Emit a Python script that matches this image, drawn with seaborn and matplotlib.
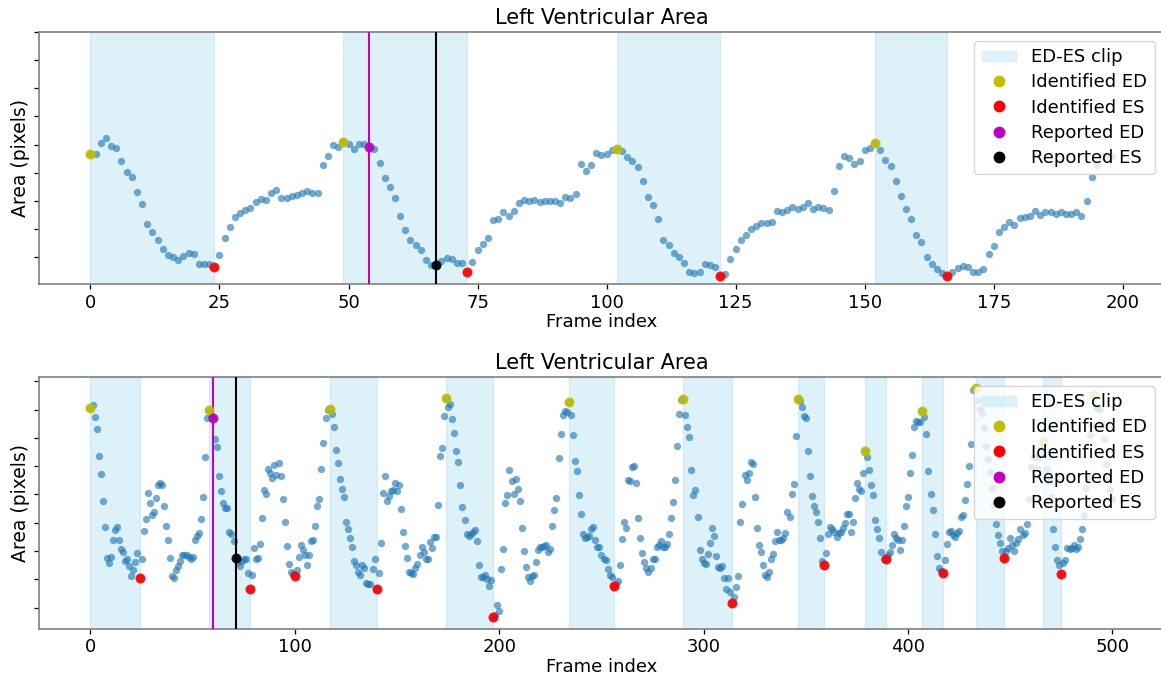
import numpy as np
import pandas as pd
import seaborn as sns
import matplotlib.pyplot as plt
from matplotlib.patches import Patch
from matplotlib.lines import Line2D

sns.set_style("ticks")
plt.rcParams['font.family'] = ['DejaVu Sans']
plt.rcParams.update({"text.color": "black", "axes.labelcolor": "black",
                     "xtick.color": "black", "ytick.color": "black"})

# ---- data (LV area, arbitrary units) ----
area_a = [129.7, 129.7, 141.4, 146.4, 138.4, 135.7, 123.4, 112.4, 107, 92, 79.7, 60, 52.4, 43.7, 35, 29, 27, 23.4, 27.4, 30.4,
          30, 20, 20, 20, 16.7, 28.7, 45.7, 56.7, 66.7, 70.7, 73.7, 76, 82, 84.7, 83.7, 91, 93.7, 86, 85.7, 87.7,
          89.4, 91.4, 93.4, 90.7, 90.7, 118.7, 128.4, 139, 137, 142.4, 140.4, 135.4, 139.7, 139.7, 136.7, 135.4, 121.4, 106.4, 96.7, 86,
          68, 53.7, 43.4, 38.4, 33.7, 24, 18.4, 18.7, 22.7, 25.7, 24.4, 20.7, 20.4, 12, 21.4, 34, 39.4, 45.4, 64.4, 64.7,
          71.7, 68.4, 73, 81, 84.4, 83.4, 84.4, 81.7, 83.4, 82.7, 82.7, 81.4, 87.4, 85.7, 90, 120, 113.4, 118.7, 130.7, 129,
          129.7, 134, 135.4, 133.4, 127.4, 123.4, 116.7, 102.7, 86.7, 79.4, 65, 43.4, 38.7, 30.7, 26.7, 21, 12, 10.4, 12, 19.4,
          18.7, 16.4, 7.4, 9.7, 25, 34.7, 43.7, 49, 55.4, 58.4, 61.4, 61.4, 62.4, 73, 71.7, 74, 76.7, 75, 76.7, 81,
          75, 77, 76.4, 74, 92.7, 118, 127.7, 125.7, 119.7, 123, 134, 136.4, 141, 133.7, 123.7, 117.7, 103, 88, 75, 64.7,
          49, 41.4, 26.7, 19.7, 15, 10.7, 8, 12, 15.7, 18, 16.4, 12, 11.7, 14.4, 30, 37.4, 51.7, 57, 62, 59.4,
          65.7, 67.4, 68, 73, 68.7, 72.4, 72.4, 70, 72.4, 70.4, 70, 72.4, 67.7, 83.4, 107, 119, 127.7, 128.4, 128]
ed_a = [0, 49, 102, 152]
es_a = [24, 73, 122, 166]
rep_ed_a, rep_es_a = 54, 67

area_b = [220.4, 223.7, 211.7, 199.7, 172.4, 154.4, 127.4, 101.7, 70.4, 65.4, 71.7, 88.4, 98.4, 102, 88.4, 79.4, 77, 68, 69.4, 63,
          52.4, 58.7, 66.7, 75.7, 50.4, 69.4, 98, 109.4, 135.7, 125.7, 113.7, 117, 131, 143.7, 145.7, 143.7, 122.7, 102.7, 88.7, 70.7,
          52.7, 51, 58.7, 63, 67.7, 73.4, 73.7, 73.7, 72, 69.7, 72, 88.7, 93, 96, 110, 131.7, 171.7, 210.4, 219, 212,
          210.4, 189.7, 181.4, 152.4, 137.4, 126, 121, 121, 97, 94.7, 87.4, 70.4, 67, 62.7, 67.7, 69.4, 69.4, 56, 40, 53.4,
          80.4, 69.7, 70.4, 84.4, 110.4, 138.4, 134.4, 159.7, 155.4, 150.7, 163.7, 154, 165.4, 152.7, 130, 106.7, 82.7, 64.7, 57, 54.7,
          52.4, 58.7, 71.7, 83.7, 78.7, 73.4, 63.4, 74, 87.7, 89, 103, 123, 129.4, 160, 185.4, 211, 218.4, 220, 215, 202,
          178.7, 165.7, 149.4, 139.7, 132, 106.7, 100, 90.4, 82, 68, 63.4, 56.4, 53.7, 64, 61, 45.7, 45, 44.4, 59.4, 70,
          40, 55.4, 86, 135.4, 152.7, 128, 132.7, 137.7, 138.4, 145.4, 137.4, 143.4, 119.4, 96.4, 82.7, 70.7, 57, 56, 55, 60.4,
          65, 73.4, 81.4, 77, 70, 70, 87, 80.4, 91.4, 92, 123.7, 172.4, 181, 212.4, 231, 221.7, 225, 210, 195.7, 178,
          166.4, 143.7, 121.7, 108.4, 94.4, 93, 94.4, 96.4, 98.4, 88, 64, 51.4, 51.4, 53.7, 49.7, 43, 48.4, 11.7, 14, 23.4,
          17.4, 60, 80, 125.7, 133.7, 158.4, 147.4, 134.7, 149.4, 139.4, 127.4, 101, 78, 61.4, 51.7, 48, 52.4, 53.7, 67, 78.4,
          81.4, 81.4, 82.4, 83.7, 76.4, 79.7, 102.7, 119, 130.7, 170.4, 195, 213.7, 218, 217, 226.4, 214, 193.7, 168, 157.7, 133.7,
          115, 95, 91, 91.7, 93, 99.4, 102, 88.7, 82, 82, 73.7, 69.4, 68.4, 60, 53.7, 51.4, 42.7, 45, 48, 63.4,
          89.7, 106.7, 101, 148.4, 147.7, 161.7, 163, 145.7, 111, 90.4, 75.4, 66.4, 60.4, 57, 61, 69.4, 69.4, 81.7, 83.7, 88,
          81.4, 81.4, 84.4, 95, 111, 126.4, 148.4, 183, 214.4, 228.4, 229.7, 213.7, 202, 191.7, 158.4, 134, 138.4, 112, 79, 69.7,
          66, 64.4, 74.4, 85.4, 100.7, 92.4, 73, 61.7, 61, 62.7, 50.7, 39.4, 50.7, 36.4, 25.4, 32, 41.4, 53, 106.7, 124.4,
          153.7, 149, 155.7, 166.4, 164.4, 131.4, 101, 83.7, 76.4, 63.7, 53.4, 51.7, 57, 69.4, 74.4, 87.7, 97, 88.7, 88.7, 90.4,
          95.4, 116.4, 112, 135, 145, 192.4, 230, 227.7, 222, 213, 210.4, 177.7, 152.4, 133, 123, 116.4, 107, 90.4, 68, 63.4,
          76, 94.7, 102, 99.7, 97, 92, 95.4, 97, 100.4, 106, 115, 115, 97, 106.7, 130.4, 145.4, 139.4, 138, 156, 178,
          172, 158.7, 143.7, 133.4, 108.4, 99.7, 91, 76.4, 70, 69.7, 73.4, 77, 84, 94.4, 90.4, 88.4, 79, 89, 103, 122.7,
          131.4, 156, 173.7, 201.4, 207.7, 206.7, 206.4, 217.4, 212, 194.7, 158, 134.4, 118.7, 94.4, 73, 61, 58, 55.4, 68.4, 84.7,
          97, 97.7, 93.7, 92, 96, 98, 112, 113.7, 128.7, 144.7, 162.7, 184.7, 238.7, 240.4, 228.7, 219.7, 215.4, 201, 183, 169.7,
          156.4, 140.4, 123.7, 104.7, 93.7, 85.4, 77.7, 71, 78, 81, 91, 83.7, 77.7, 85.4, 89.7, 99.7, 93.7, 95.4, 104.4, 129.7,
          162, 172, 171.7, 161, 172, 180, 187, 175, 160, 148, 132, 99.4, 81.7, 68.4, 63.7, 54.4, 66, 68.7, 80.4, 79.7,
          80.4, 83.7, 79.7, 81.7, 89.7, 99.4, 113.7, 140.4, 152, 193.7, 203.7, 233.7, 222, 220, 220, 205, 190, 165, 150, 139,
          130]
ed_b = [0, 58, 117, 174, 234, 290, 346, 379, 407, 433, 466, 491]
es_b = [24, 78, 100, 140, 197, 256, 314, 359, 389, 417, 447, 475]
rep_ed_b, rep_es_b = 60, 71

clips_a = list(zip(ed_a, es_a))
clips_b = [(0, 24), (58, 78), (117, 140), (174, 197), (234, 256), (290, 314),
           (346, 359), (379, 389), (407, 417), (433, 447), (466, 475)]


def draw(ax, area, ed, es, rep_ed, rep_es, clips, yticks, xlim):
    df = pd.DataFrame({"frame": np.arange(len(area)), "area": area})
    for a, b in clips:
        ax.axvspan(a, b, color="skyblue", alpha=0.28, lw=1, zorder=0)
    sns.scatterplot(data=df, x="frame", y="area", ax=ax, color="tab:blue",
                    alpha=0.62, s=28, linewidth=0, zorder=2)
    ax.axvline(rep_ed, color="m", lw=1.5, zorder=3)
    ax.axvline(rep_es, color="k", lw=1.5, zorder=3)
    pts = [(ed, "y"), (es, "r"), ([rep_ed], "m"), ([rep_es], "k")]
    for idx, c in pts:
        sub = df.iloc[idx]
        sns.scatterplot(data=sub, x="frame", y="area", ax=ax, color=c,
                        s=52, linewidth=0, alpha=0.9, zorder=4)
    handles = [Patch(facecolor="skyblue", alpha=0.28, label="ED-ES clip")]
    for lab, c in zip(["Identified ED", "Identified ES", "Reported ED", "Reported ES"],
                      ["y", "r", "m", "k"]):
        handles.append(Line2D([], [], marker="o", ls="", color=c, markersize=8.5,
                              markeredgewidth=0, label=lab))
    ax.legend(handles=handles, loc="upper right", fontsize=13, labelspacing=0.4)
    ax.set_ylim(0, 251.7)
    ax.set_xlim(*xlim)
    ax.set_yticks(yticks)
    ax.set_yticklabels([])
    ax.set_title("Left Ventricular Area", fontsize=15)
    ax.set_xlabel("Frame index", fontsize=13, labelpad=1)
    ax.set_ylabel("Area (pixels)", fontsize=13.5, labelpad=0)
    ax.tick_params(length=3.5, width=0.9, labelsize=13)
    for sp in ax.spines.values():
        sp.set_color("0.5")
        sp.set_linewidth(1.2)


fig, axes = plt.subplots(2, 1, figsize=(11.61, 6.77), dpi=100)
fig.subplots_adjust(left=0.0339, right=1.0022, top=0.9527, bottom=0.0713, hspace=0.37)

draw(axes[0], area_a, ed_a, es_a, rep_ed_a, rep_es_a, clips_a,
     np.arange(26.7, 253, 28.2), (-9.9, 207.9))
draw(axes[1], area_b, ed_b, es_b, rep_ed_b, rep_es_b, clips_b,
     np.arange(21, 250, 28.3), (-25, 525))

fig.savefig("out.png", dpi=100)
